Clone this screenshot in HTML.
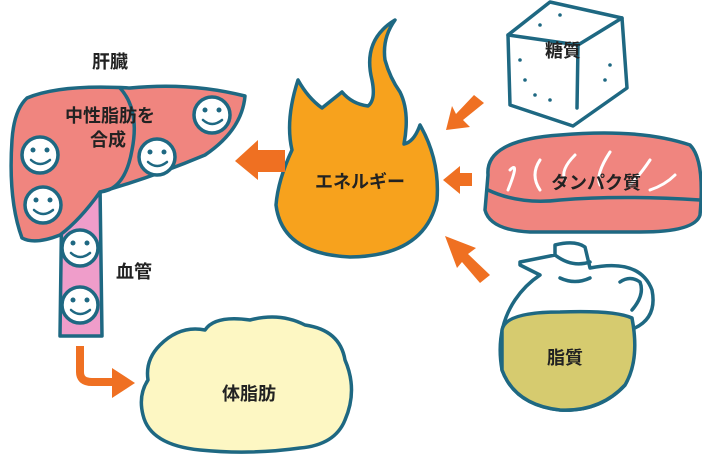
<!DOCTYPE html>
<html><head><meta charset="utf-8"><style>
html,body{margin:0;padding:0;background:#fff}
svg{display:block}
text{font-family:"Liberation Sans","Noto Sans CJK JP",sans-serif;fill:#222;font-size:18px;font-weight:bold;text-anchor:middle}
</style></head><body>
<svg width="702" height="467" viewBox="0 0 702 467" xmlns="http://www.w3.org/2000/svg">
<g stroke="#1e6882" stroke-width="3.5" stroke-linejoin="round" stroke-linecap="round">
<path d="M62 185 L100 185 L102 336 L60 336 Z" fill="#ef9dca"/>
<path d="M27 98 Q60 84 130 88 Q190 82 245 96 Q242 130 205 155 Q150 178 100 192 Q80 220 60 235 Q35 245 22 238 Q8 200 12 140 Q14 110 27 98 Z" fill="#f0857f"/>
<path d="M120 88 Q140 110 132 150 Q125 190 100 192" fill="none"/>
<g fill="#fff">
<circle cx="212" cy="115" r="18"/><circle cx="157" cy="157" r="18"/><circle cx="40" cy="155" r="18"/><circle cx="43" cy="205" r="18"/><circle cx="80" cy="248" r="18"/><circle cx="80" cy="305" r="18"/>
</g>
<g fill="none" stroke-width="2.5">
<path d="M203 120 Q212 128 222 120"/><path d="M148 162 Q157 170 167 162"/><path d="M31 160 Q40 168 50 160"/><path d="M34 210 Q43 218 53 210"/><path d="M71 253 Q80 261 90 253"/><path d="M71 310 Q80 318 90 310"/>
</g>
<g fill="#1e6882" stroke="none">
<circle cx="205" cy="110" r="2.5"/><circle cx="219" cy="110" r="2.5"/>
<circle cx="150" cy="152" r="2.5"/><circle cx="164" cy="152" r="2.5"/>
<circle cx="33" cy="150" r="2.5"/><circle cx="47" cy="150" r="2.5"/>
<circle cx="36" cy="200" r="2.5"/><circle cx="50" cy="200" r="2.5"/>
<circle cx="73" cy="243" r="2.5"/><circle cx="87" cy="243" r="2.5"/>
<circle cx="73" cy="300" r="2.5"/><circle cx="87" cy="300" r="2.5"/>
</g>
<path d="M395 20 Q362 40 372 80 Q376 100 368 106 Q352 104 342 92 Q332 100 322 108 Q308 98 298 80 Q285 120 292 150 Q278 180 276 205 Q282 254 350 257 Q425 256 437 200 Q440 160 420 125 Q414 142 404 144 Q410 112 400 92 Q390 78 385 60 Q382 38 395 20 Z" fill="#f7a21d"/>
<path d="M160 345 Q180 325 205 330 Q215 315 250 320 Q280 312 305 325 Q340 330 345 360 Q358 390 345 420 Q335 445 300 448 Q250 455 200 450 Q150 445 143 415 Q138 395 148 380 Q145 360 160 345 Z" fill="#fdf7c3"/>
<path d="M508 35 L550 2 L622 18 L627 88 L573 126 L510 105 Z" fill="#fff"/>
<path d="M508 35 L578 45 L622 18 M578 45 L577 108" fill="none"/>
<path d="M488 175 Q485 140 560 135 Q640 128 690 145 Q705 160 700 215 Q695 232 640 232 L530 232 Q490 230 485 210 Z" fill="#f0857f"/>
<path d="M488 190 Q520 205 560 200 Q620 195 700 200" fill="none"/>
<path d="M520 262 L555 255 L555 245 Q575 240 585 247 L590 268 Q640 258 652 290 Q658 320 630 330 Q638 360 625 385 Q600 412 560 410 Q515 405 502 370 Q495 330 515 300 Q525 285 540 275 L520 265 Z" fill="#fff"/>
<path d="M502 330 Q505 312 560 312 Q615 310 632 318 Q640 360 625 385 Q600 412 560 410 Q515 405 502 370 Z" fill="#d6cb6f"/>
<path d="M555 255 Q572 268 590 262 M560 278 Q575 285 590 278 M632 310 Q645 295 640 282 Q630 275 620 282" fill="none"/>
</g>
<g fill="#1e6882">
<circle cx="520" cy="60" r="1.8"/><circle cx="525" cy="80" r="1.8"/><circle cx="535" cy="95" r="1.8"/><circle cx="550" cy="100" r="1.8"/><circle cx="610" cy="65" r="1.8"/><circle cx="605" cy="80" r="1.8"/><circle cx="560" cy="15" r="1.8"/><circle cx="540" cy="25" r="1.8"/>
</g>
<g stroke="#fff" stroke-width="3" fill="none" stroke-linecap="round">
<path d="M510 170 Q520 160 508 190"/><path d="M540 160 Q530 175 540 190"/><path d="M575 155 Q560 170 565 180"/><path d="M610 152 Q595 175 600 185"/><path d="M650 160 Q640 175 630 185"/><path d="M675 175 Q665 185 650 190"/>
</g>
<g fill="#ef7022">
<path d="M285 150 L285 172 L258 172 L258 180 L235 161 L258 140 L258 150 Z"/>
<path d="M484 103 L474 95 L456 114 L452 106 L446 130 L470 127 L463 120 Z"/>
<path d="M472 173 L472 186 L460 186 L460 194 L443 180 L460 166 L460 173 Z"/>
<path d="M490 275 L480 283 L462 262 L457 268 L445 236 L476 248 L468 254 Z"/>
</g>
<path d="M80 346 L80 372 Q80 382 92 382 L118 382" stroke="#ef7022" stroke-width="8" fill="none"/>
<path d="M112 368 L135 383 L112 398 Z" fill="#ef7022"/>
<text x="110" y="68">肝臓</text>
<text x="110" y="122">中性脂肪を</text>
<text x="108" y="146">合成</text>
<text x="134" y="278">血管</text>
<text x="360" y="188">エネルギー</text>
<text x="249" y="400">体脂肪</text>
<text x="563" y="57">糖質</text>
<text x="596" y="189">タンパク質</text>
<text x="565" y="364">脂質</text>
</svg>
</body></html>
